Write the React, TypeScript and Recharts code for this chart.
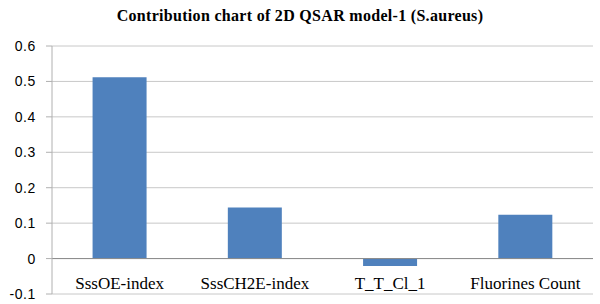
import React from 'react';
import { BarChart, Bar, XAxis, YAxis, CartesianGrid, ReferenceLine } from 'recharts';

const categories = ['SssOE-index', 'SssCH2E-index', 'T_T_Cl_1', 'Fluorines Count'];
const contributions = [0.512, 0.144, -0.021, 0.124];
const yTicks = [-0.1, 0, 0.1, 0.2, 0.3, 0.4, 0.5, 0.6];
const title = 'Contribution chart of 2D QSAR model-1 (S.aureus)';

const data = categories.map((name, i) => ({ name, value: contributions[i] }));

const XTick = (props: any) => {
  const { x, y, payload } = props;
  return (
    <text x={x} y={y - 5} textAnchor="middle" fontFamily="'Liberation Serif', 'Times New Roman', serif" fontSize={17} fill="#000">
      {payload.value}
    </text>
  );
};

const fmt = (v: number) => (Math.abs(v) < 1e-9 ? '0' : String(Math.round(v * 10) / 10));

export default function App() {
  return (
    <div style={{ position: 'absolute', left: 0, top: 0, width: 600, height: 304, background: '#fff' }}>
      <div
        style={{
          position: 'absolute',
          left: 0,
          width: 600,
          top: 6,
          textAlign: 'center',
          fontFamily: "'Liberation Serif', 'Times New Roman', serif",
          fontWeight: 'bold',
          fontSize: 16,
          letterSpacing: 0.3,
          lineHeight: '20px',
          color: '#000',
        }}
      >
        {title}
      </div>
      <BarChart
        width={600}
        height={304}
        data={data}
        margin={{ top: 46, right: 7, bottom: 0, left: 0 }}
        barCategoryGap="30%"
      >
        <CartesianGrid vertical={false} stroke="#c8c8c8" strokeWidth={1} />
        <XAxis
          dataKey="name"
          axisLine={false}
          tickLine={false}
          tickSize={0}
          tickMargin={0}
          height={10}
          interval={0}
          tick={<XTick />}
        />
        <YAxis
          domain={[-0.1, 0.6]}
          ticks={yTicks}
          width={52}
          interval={0}
          tickFormatter={fmt}
          axisLine={{ stroke: '#b0b0b0' }}
          tickLine={{ stroke: '#b0b0b0' }}
          tickSize={6}
          tickMargin={10}
          tick={{ fill: '#000', fontSize: 14, letterSpacing: 0.6, fontFamily: "'Liberation Sans', Arial, sans-serif" }}
          allowDataOverflow
        />
        <ReferenceLine y={0} stroke="#8a8a8a" strokeWidth={1} />
        <Bar dataKey="value" fill="#4f81bd" isAnimationActive={false} />
      </BarChart>
    </div>
  );
}
